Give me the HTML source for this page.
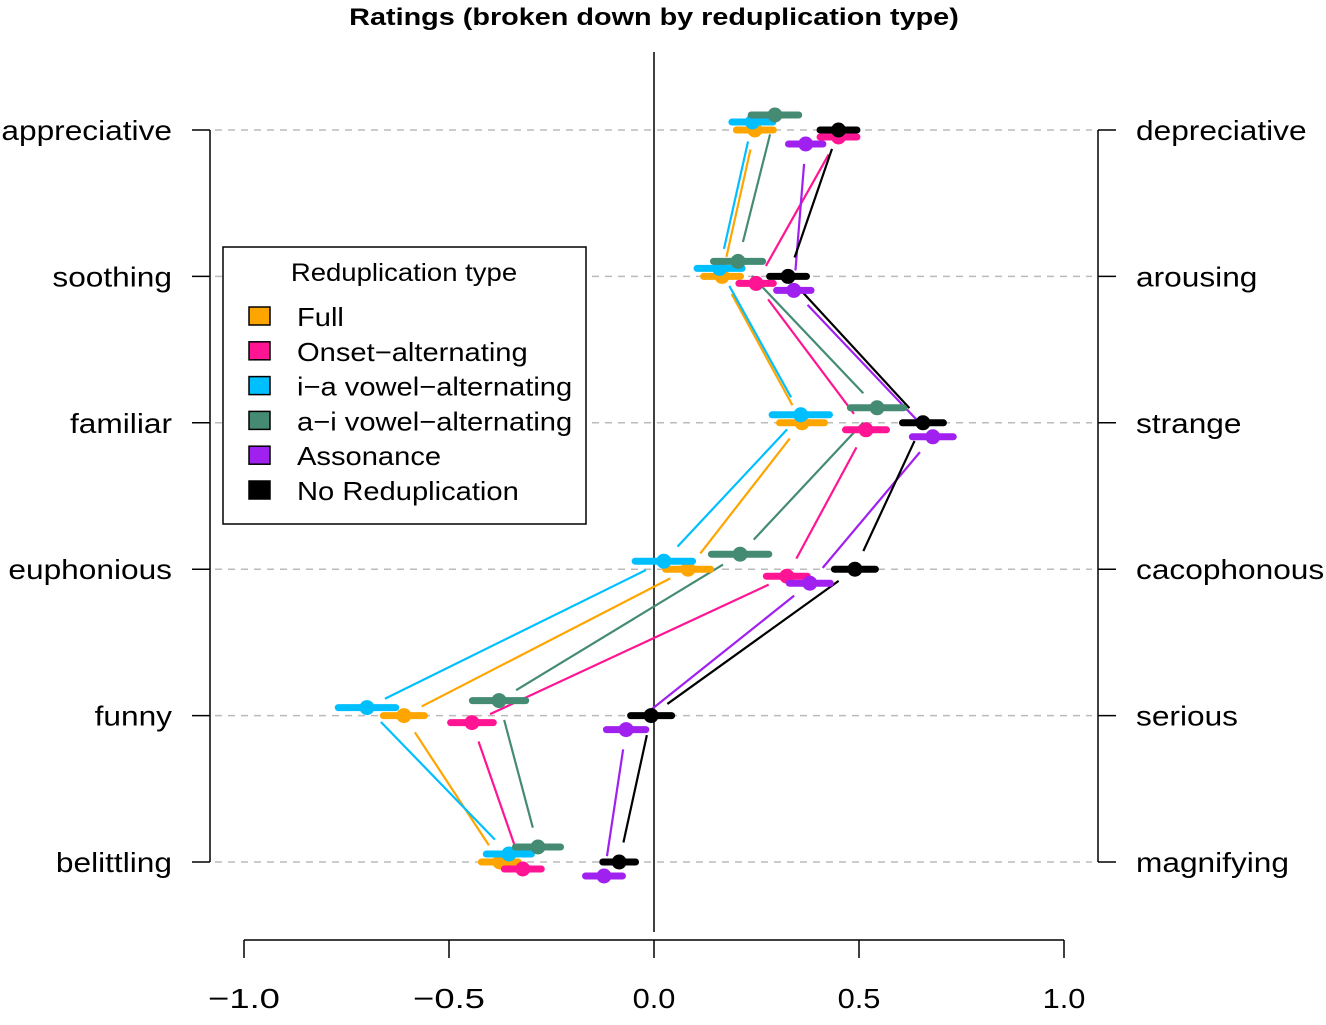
<!DOCTYPE html>
<html><head><meta charset="utf-8"><style>
body{margin:0;background:#fff}
svg{display:block;font-family:"Liberation Sans",Arial,sans-serif}
</style></head><body>
<svg id="chart" width="1326" height="1025">
<text id="title" x="654" y="25" text-anchor="middle" font-size="24" font-weight="bold">Ratings (broken down by reduplication type)</text>
<g id="grid"></g>
<g id="axes"></g>
<g id="series"></g>
<g id="legend">
<rect x="223" y="247" width="363" height="277" fill="#fff" stroke="#000" stroke-width="1.5"/>
<text class="lg" x="404" y="281" text-anchor="middle" font-size="25">Reduplication type</text>
</g>
</svg>
<script>
const leftLabels=["appreciative","soothing","familiar","euphonious","funny","belittling"];
const rightLabels=["depreciative","arousing","strange","cacophonous","serious","magnifying"];
const xTicks=[-1.0,-0.5,0.0,0.5,1.0];
const xTickLabels=["\u22121.0","\u22120.5","0.0","0.5","1.0"];
const seriesNames=["Full","Onset\u2212alternating","i\u2212a vowel\u2212alternating","a\u2212i vowel\u2212alternating","Assonance","No Reduplication"];
const seriesColors=["#FFA500","#FF1493","#00BFFF","#458B74","#A020F0","#000000"];
const seriesOffsets=[0,7,-8,-15,14,0];
const fullVals=[0.246,0.166,0.361,0.083,-0.610,-0.376];
const onsetVals=[0.450,0.249,0.517,0.324,-0.444,-0.320];
const iaVals=[0.240,0.160,0.358,0.024,-0.700,-0.354];
const aiVals=[0.295,0.205,0.544,0.210,-0.378,-0.283];
const assonVals=[0.370,0.341,0.680,0.380,-0.068,-0.122];
const noRedVals=[0.450,0.327,0.656,0.490,-0.007,-0.085];
const fullCI=[0.045,0.045,0.055,0.055,0.050,0.045];
const onsetCI=[0.045,0.042,0.050,0.050,0.052,0.045];
const iaCI=[0.050,0.055,0.070,0.070,0.070,0.055];
const aiCI=[0.058,0.060,0.065,0.070,0.065,0.055];
const assonCI=[0.042,0.042,0.050,0.050,0.048,0.045];
const noRedCI=[0.045,0.045,0.050,0.050,0.050,0.040];
const allVals=[fullVals,onsetVals,iaVals,aiVals,assonVals,noRedVals];
const allCI=[fullCI,onsetCI,iaCI,aiCI,assonCI,noRedCI];

const NS="http://www.w3.org/2000/svg";
const X=v=>654+v*410;
const Y=i=>130+i*146.4;
function mk(parent,tag,attrs){const e=document.createElementNS(NS,tag);for(const k in attrs)e.setAttribute(k,attrs[k]);document.getElementById(parent).appendChild(e);return e;}
function stretch(el,f){const w=el.getComputedTextLength();el.setAttribute('textLength',(w*f).toFixed(1));el.setAttribute('lengthAdjust','spacingAndGlyphs');}

leftLabels.forEach((l,i)=>{
  const g=mk('grid','line',{x1:215,x2:1092,y1:Y(i),y2:Y(i),stroke:'#bbb','stroke-width':1.5,'stroke-dasharray':'7,6'});
  
  
  const t=mk('axes','line',{x1:192,x2:210,y1:Y(i),y2:Y(i),stroke:'#000','stroke-width':1.5});
  
  
  const tl=mk('axes','text',{x:172,y:Y(i)+10,'text-anchor':'end','font-size':28});
  tl.textContent=l;
  
  
  stretch(tl,1.13);
  const t2=mk('axes','line',{x1:1098,x2:1116,y1:Y(i),y2:Y(i),stroke:'#000','stroke-width':1.5});
  
  
  const tr=mk('axes','text',{x:1136,y:Y(i)+10,'font-size':28});
  tr.textContent=rightLabels[i];
  
  
  stretch(tr,1.13);
});
let a=mk('axes','line',{x1:210,x2:210,y1:Y(0),y2:Y(5),stroke:'#000','stroke-width':1.5});


a=mk('axes','line',{x1:1098,x2:1098,y1:Y(0),y2:Y(5),stroke:'#000','stroke-width':1.5});


a=mk('axes','line',{x1:X(0),x2:X(0),y1:52,y2:932,stroke:'#000','stroke-width':1.5});


a=mk('axes','line',{x1:X(-1),x2:X(1),y1:940,y2:940,stroke:'#000','stroke-width':1.5});


xTicks.forEach((v,i)=>{
  const t=mk('axes','line',{x1:X(v),x2:X(v),y1:940,y2:958,stroke:'#000','stroke-width':1.5});
  
  
  const tl=mk('axes','text',{x:X(v),y:1008,'text-anchor':'middle','font-size':28});
  tl.textContent=xTickLabels[i];
  
  
  stretch(tl,v<0?1.3:1.1);
});

allVals.forEach((vals,s)=>{
  const c=seriesColors[s],off=seriesOffsets[s];
  for(let i=0;i<vals.length-1;i++){
    const x1=X(vals[i]),y1=Y(i)+off,x2=X(vals[i+1]),y2=Y(i+1)+off;
    const dx=x2-x1,dy=y2-y1,L=Math.hypot(dx,dy),g=20;
    if(L>2*g){
      const ln=mk('series','line',{x1:x1+dx*g/L,y1:y1+dy*g/L,x2:x2-dx*g/L,y2:y2-dy*g/L,stroke:c,'stroke-width':2.2});
      
      
    }
  }
});
allVals.forEach((vals,s)=>{
  const c=seriesColors[s],off=seriesOffsets[s];
  vals.forEach((v,i)=>{
    const ci=allCI[s][i];
    const b=mk('series','line',{x1:X(v-ci),x2:X(v+ci),y1:Y(i)+off,y2:Y(i)+off,stroke:c,'stroke-width':7,'stroke-linecap':'round'});
    
    
    const p=mk('series','circle',{cx:X(v),cy:Y(i)+off,r:7.5,fill:c});
    
    
  });
});
seriesNames.forEach((n,s)=>{
  const y=317+s*34.8;
  const r=mk('legend','rect',{x:249,y:y-10,width:21,height:18,fill:seriesColors[s],stroke:'#000','stroke-width':1.5});
  
  
  const t=mk('legend','text',{x:297,y:y+9,'font-size':26});
  t.textContent=n;
  
  
  stretch(t,1.12);
});
stretch(document.querySelector('#legend .lg'),1.1);
stretch(document.getElementById('title'),1.2);
</script>
</body></html>
